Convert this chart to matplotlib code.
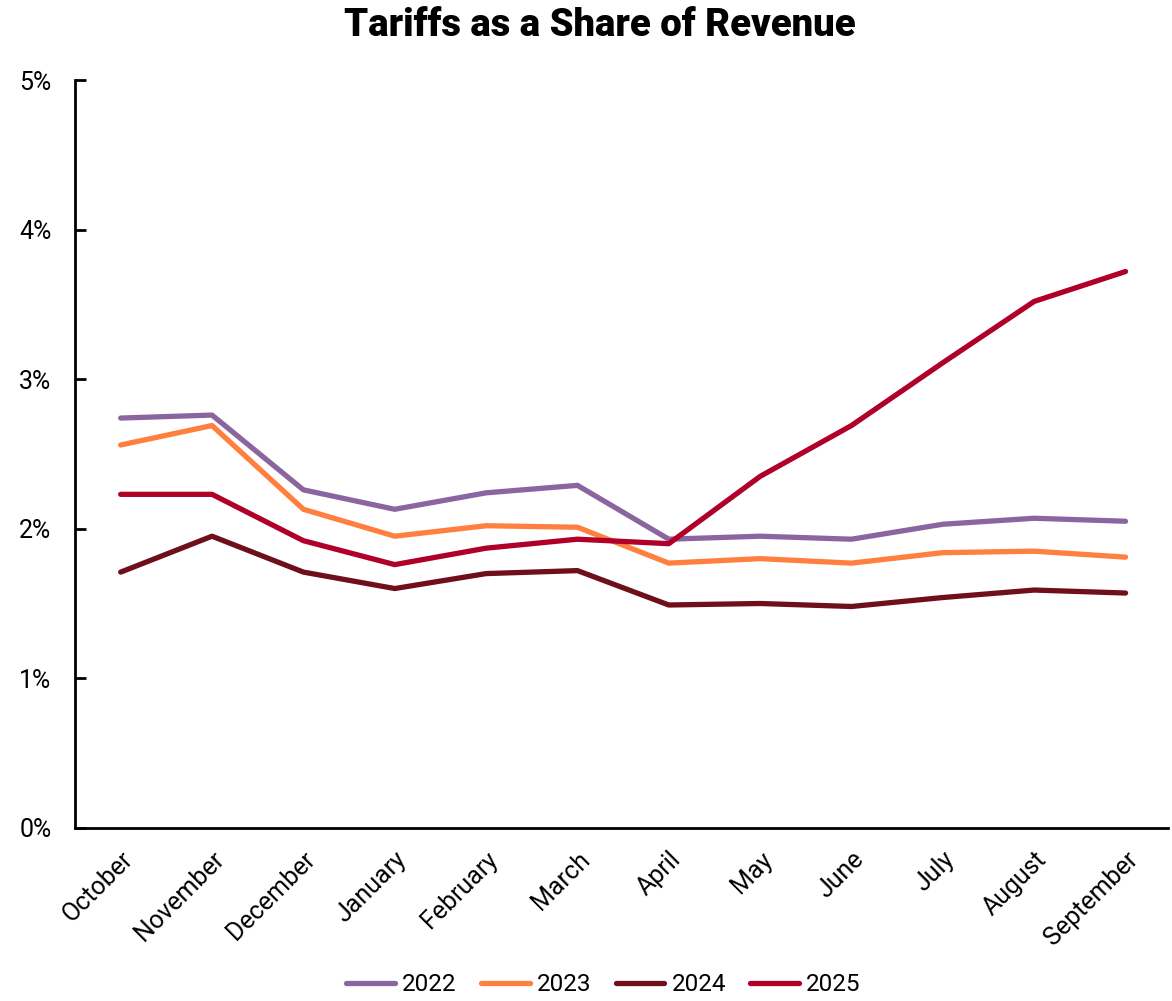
import matplotlib.pyplot as plt
import matplotlib.ticker as mticker

plt.rcParams['font.family'] = ['Roboto', 'DejaVu Sans']

months = ['October', 'November', 'December', 'January', 'February', 'March',
          'April', 'May', 'June', 'July', 'August', 'September']

# tariffs as % of revenue
y2022 = [2.74, 2.76, 2.26, 2.13, 2.24, 2.29, 1.93, 1.95, 1.93, 2.03, 2.07, 2.05]
y2023 = [2.56, 2.69, 2.13, 1.95, 2.02, 2.01, 1.77, 1.80, 1.77, 1.84, 1.85, 1.81]
y2024 = [1.71, 1.95, 1.71, 1.60, 1.70, 1.72, 1.49, 1.50, 1.48, 1.54, 1.59, 1.57]
y2025 = [2.23, 2.23, 1.92, 1.76, 1.87, 1.93, 1.90, 2.35, 2.69, 3.11, 3.52, 3.72]

fig = plt.figure(figsize=(11.72, 10.01), dpi=100)
ax = fig.add_axes([0.064, 0.173, 0.933, 0.747])

x = range(len(months))
ax.plot(x, y2022, color='#8B65A0', lw=3.8, label='2022', solid_capstyle='round')
ax.plot(x, y2023, color='#FF7F3F', lw=3.8, label='2023', solid_capstyle='round')
ax.plot(x, y2024, color='#6E0F1A', lw=3.8, label='2024', solid_capstyle='round')
ax.plot(x, y2025, color='#B0002A', lw=3.8, label='2025', solid_capstyle='round')

ax.set_xlim(-0.5, 11.47)
ax.set_ylim(0, 5)
ax.yaxis.set_major_formatter(mticker.FuncFormatter(lambda v, p: '%d%%' % v))
ax.set_xticks(list(x))
ax.set_xticklabels(months, rotation=45, ha='right', rotation_mode='anchor', fontsize=18)
ax.tick_params(axis='y', direction='in', length=8, width=2, labelsize=18, pad=17)
ax.tick_params(axis='x', length=0, pad=14)
for s in ['top', 'right']:
    ax.spines[s].set_visible(False)
for s in ['left', 'bottom']:
    ax.spines[s].set_linewidth(2)

fig.suptitle('Tariffs as a Share of Revenue', fontsize=27.5, fontweight='black',
             x=0.512, y=0.993)
fig.legend(loc='lower center', ncol=4, frameon=False, fontsize=17.5,
           bbox_to_anchor=(0.515, -0.017), handlelength=2.0, handletextpad=0.3,
           columnspacing=1.0)

fig.savefig('out.png', dpi=100)
